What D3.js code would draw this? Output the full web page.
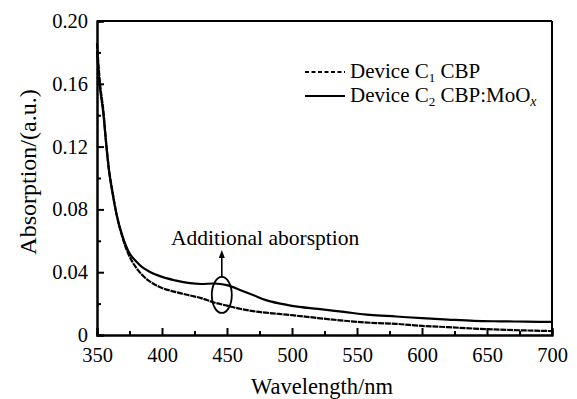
<!DOCTYPE html>
<html>
<head>
<meta charset="utf-8">
<script src="https://cdn.jsdelivr.net/npm/d3@7"></script>
<style>
  body { margin: 0; background: #fff; }
  svg text { font-family: "Liberation Serif", serif; }
</style>
</head>
<body>
<div id="chart"></div>
<script>
// wavelength samples (nm)
var wavelength = [350, 352, 355, 357, 359, 362, 365, 370, 375, 380, 385, 390, 400, 410, 420, 430, 440, 450,
    460, 470, 480, 490, 500, 520, 540, 560, 580, 600, 620, 640, 660, 680, 700];
// Device C1 CBP (dashed)
var c1 = [0.186, 0.163, 0.142, 0.123, 0.107, 0.091, 0.077, 0.061, 0.050, 0.043, 0.038, 0.0345, 0.030, 0.0275,
    0.0255, 0.0235, 0.0207, 0.0187, 0.0167, 0.0152, 0.0142, 0.0134, 0.0126, 0.0108, 0.0091, 0.0078, 0.0071,
    0.0058, 0.005, 0.0041, 0.0034, 0.0029, 0.0025];
// Device C2 CBP:MoOx (solid)
var c2 = [0.181, 0.160, 0.140, 0.122, 0.106, 0.090, 0.077, 0.062, 0.052, 0.047, 0.043, 0.0405, 0.037, 0.0348,
    0.0332, 0.0325, 0.0328, 0.0318, 0.0287, 0.0255, 0.0222, 0.0201, 0.0186, 0.0166, 0.0147, 0.0128, 0.0118,
    0.0107, 0.0098, 0.0090, 0.0087, 0.0085, 0.0083];
var xTicks = [350, 400, 450, 500, 550, 600, 650, 700];
var yTicks = [0, 0.04, 0.08, 0.12, 0.16, 0.20];

var FONT = "Liberation Serif";

var margin = {left: 97, right: 25, top: 21, bottom: 64};
var W = 577, H = 399;
var width = W - margin.left - margin.right;
var height = H - margin.top - margin.bottom;

var svg = d3.select("#chart").append("svg")
    .attr("width", W)
    .attr("height", H)
    .attr("font-family", FONT);
var g = svg.append("g")
    .attr("transform", "translate(" + margin.left + "," + margin.top + ")");

var x = d3.scaleLinear().domain([350, 700]).range([0, width]);
var y = d3.scaleLinear().domain([0, 0.20]).range([height, 0]);

// minor ticks
var xMinor = d3.range(375, 700, 50);
var yMinor = d3.range(0.02, 0.2, 0.04);

g.append("g")
    .attr("transform", "translate(0," + height + ")")
    .call(d3.axisBottom(x).tickValues(xTicks).tickSize(-7).tickPadding(12)
        .tickFormat(d3.format("d")));
g.append("g")
    .call(d3.axisLeft(y).tickValues(yTicks).tickSize(-7).tickPadding(9)
        .tickFormat(function (d) { return d === 0 ? "0" : d3.format(".2f")(d); }));
g.append("g")
    .attr("transform", "translate(0," + height + ")")
    .call(d3.axisBottom(x).tickValues(xMinor).tickSize(-4).tickFormat(""));
g.append("g")
    .call(d3.axisLeft(y).tickValues(yMinor).tickSize(-4).tickFormat(""));

g.selectAll(".domain").attr("stroke-width", 2).attr("stroke", "#000");
g.selectAll(".tick line").attr("stroke-width", 2).attr("stroke", "#000");
g.selectAll("g").attr("font-family", FONT);
g.selectAll(".tick text").attr("font-size", "20.5px").attr("fill", "#000");

// frame top / right
g.append("line").attr("x1", 0).attr("x2", width).attr("y1", 0).attr("y2", 0)
    .attr("stroke", "#000").attr("stroke-width", 2);
g.append("line").attr("x1", width).attr("x2", width).attr("y1", 0).attr("y2", height)
    .attr("stroke", "#000").attr("stroke-width", 2);

var line = d3.line()
    .x(function (d) { return x(d[0]); })
    .y(function (d) { return y(d[1]); })
    .curve(d3.curveMonotoneX);

g.append("path")
    .datum(wavelength.map(function (w, i) { return [w, c2[i]]; }))
    .attr("d", line)
    .attr("fill", "none")
    .attr("stroke", "#000")
    .attr("stroke-width", 2.2);
g.append("path")
    .datum(wavelength.map(function (w, i) { return [w, c1[i]]; }))
    .attr("d", line)
    .attr("fill", "none")
    .attr("stroke", "#000")
    .attr("stroke-width", 2.2)
    .attr("stroke-dasharray", "6,0.8");

// annotation: ellipse + arrow + label
var cx = x(446), cy = y(0.0255);
g.append("ellipse")
    .attr("cx", cx).attr("cy", cy)
    .attr("rx", 10).attr("ry", 18)
    .attr("fill", "none").attr("stroke", "#000").attr("stroke-width", 1.8);
g.append("line")
    .attr("x1", cx).attr("x2", cx)
    .attr("y1", cy - 18).attr("y2", cy - 38)
    .attr("stroke", "#000").attr("stroke-width", 1.6);
g.append("path")
    .attr("d", "M" + (cx - 3) + "," + (cy - 37) + "L" + cx + "," + (cy - 45) +
        "L" + (cx + 3) + "," + (cy - 37) + "Z")
    .attr("fill", "#000");
g.append("text")
    .attr("x", x(407)).attr("y", y(0.0573))
    .attr("font-size", "21.5px")
    .text("Additional aborsption");

// legend
var legend = g.append("g").attr("transform", "translate(" + (305 - margin.left) + "," + (72 - margin.top) + ")");
legend.append("line").attr("x1", 0).attr("x2", 40).attr("y1", 0).attr("y2", 0)
    .attr("stroke", "#000").attr("stroke-width", 2.2).attr("stroke-dasharray", "4,2.5");
legend.append("line").attr("x1", 0).attr("x2", 40).attr("y1", 24).attr("y2", 24)
    .attr("stroke", "#000").attr("stroke-width", 2.2);
var t1 = legend.append("text").attr("x", 45).attr("y", 6).attr("font-size", "21px");
t1.append("tspan").text("Device C");
t1.append("tspan").attr("font-size", "13px").attr("dy", 4).text("1");
t1.append("tspan").attr("dy", -4).text(" CBP");
var t2 = legend.append("text").attr("x", 45).attr("y", 30).attr("font-size", "21px");
t2.append("tspan").text("Device C");
t2.append("tspan").attr("font-size", "13px").attr("dy", 4).text("2");
t2.append("tspan").attr("dy", -4).text(" CBP:MoO");
t2.append("tspan").attr("font-size", "14px").attr("font-style", "italic").attr("dy", 4).text("x");

// axis titles
svg.append("text")
    .attr("x", 322).attr("y", 394)
    .attr("text-anchor", "middle")
    .attr("font-size", "22.5px")
    .text("Wavelength/nm");
svg.append("text")
    .attr("transform", "translate(36,172) rotate(-90)")
    .attr("text-anchor", "middle")
    .attr("font-size", "24px")
    .text("Absorption/(a.u.)");
</script>
</body>
</html>
